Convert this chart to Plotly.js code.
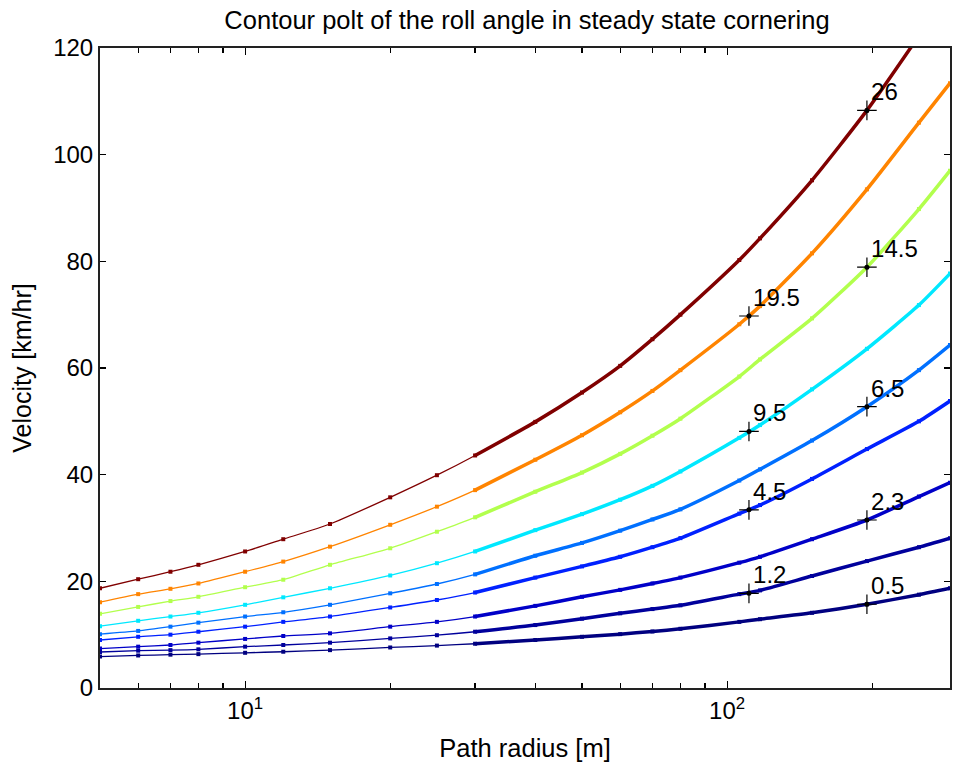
<!DOCTYPE html>
<html>
<head>
<meta charset="utf-8">
<script src="https://cdn.plot.ly/plotly-3.0.1.min.js"></script>
<style>html,body{margin:0;padding:0;background:#fff;}#chart{width:953px;height:769px;}</style>
</head>
<body>
<div id="chart"></div>
<script>
// Path radius samples [m]
const radius = [5,6,7,8,10,12,15,20,25,30,40,50,60,70,80,106,117,150,195,250,290];

// Velocity [km/hr] along each roll-angle contour
const v26   = [18.7,20.4,21.8,23.1,25.6,27.9,30.75,35.75,39.9,43.6,49.9,55.4,60.4,65.4,70.0,80.25,84.3,95.2,108.3,122.3,null];
const v19_5 = [16.1,17.6,18.6,19.6,21.8,23.7,26.5,30.6,34.0,37.1,42.8,47.4,51.7,55.7,59.6,68.2,71.6,81.5,93.5,106.0,113.4];
const v14_5 = [13.9,15.2,16.3,17.1,18.9,20.3,23.1,26.2,29.3,32.0,36.8,40.4,43.9,47.3,50.5,58.4,61.6,69.3,78.9,89.8,97.0];
const v9_5  = [11.6,12.6,13.4,14.1,15.6,17.0,18.7,21.1,23.4,25.6,29.6,32.6,35.3,37.9,40.6,46.9,49.3,56.0,63.6,71.8,77.7];
const v6_5  = [10.1,10.7,11.5,12.25,13.4,14.2,15.6,17.75,19.5,21.3,24.8,27.2,29.5,31.6,33.5,38.9,41.0,46.4,52.75,59.6,64.3];
const v4_5  = [9.0,9.6,10.0,10.55,11.5,12.4,13.4,15.1,16.5,17.9,20.7,22.8,24.6,26.4,28.1,32.7,34.3,39.2,44.8,50.0,53.8];
const v2_3  = [7.4,7.75,8.06,8.5,9.2,9.75,10.25,11.5,12.4,13.4,15.4,17.1,18.4,19.6,20.7,23.5,24.6,27.9,31.5,35.9,38.5];
const v1_2  = [6.75,7.0,7.1,7.25,7.75,8.06,8.5,9.3,9.9,10.55,11.8,13.0,14.0,14.8,15.5,17.6,18.3,21.0,23.8,26.4,28.1];
const v0_5  = [5.9,6.1,6.25,6.35,6.6,6.8,7.1,7.6,7.95,8.3,9.0,9.6,10.1,10.6,11.1,12.4,12.9,14.1,15.7,17.5,18.7];

const levels = ['26','19.5','14.5','9.5','6.5','4.5','2.3','1.2','0.5'];
const series = [v26, v19_5, v14_5, v9_5, v6_5, v4_5, v2_3, v1_2, v0_5];
const colors = ['#800000','#ff8400','#b2ff4d','#00e8ff','#0070ff','#0021ff','#0000c8','#00009c','#000080'];

// Contour label positions
const labelR = [195,111,195,111,195,111,195,111,195];
const labelV = [108.3,69.75,78.9,48.1,52.75,33.4,31.5,17.75,15.7];
const labelText = ['26','19.5','14.5','9.5','6.5','4.5','2.3','1.2','0.5'];

// Axis ticks
const xMajorVals = [10,100];
const xMajorText = ['10<sup>1</sup>','10<sup>2</sup>'];
const xMinorVals = [6,7,8,9,20,30,40,50,60,70,80,90,200];
const yTickVals = [0,20,40,60,80,100,120];

const traces = [];
series.forEach((vals, i) => {
  traces.push({
    x: radius, y: vals, type: 'scatter', mode: 'lines+markers',
    line: {color: colors[i], width: 1.3, shape: 'spline', smoothing: 0.6},
    marker: {color: colors[i], size: 4, symbol: 'square'},
    hoverinfo: 'skip', showlegend: false, name: levels[i]
  });
  const rx = [], ry = [];
  radius.forEach((r, k) => { if (r >= 30) { rx.push(r); ry.push(vals[k]); } });
  traces.push({
    x: rx, y: ry, type: 'scatter', mode: 'lines',
    line: {color: colors[i], width: 3.5, shape: 'spline', smoothing: 0.6},
    hoverinfo: 'skip', showlegend: false
  });
});

traces.push({
  x: labelR, y: labelV, type: 'scatter', mode: 'markers',
  marker: {symbol: 'cross-thin-open', size: 14, line: {color: '#000', width: 1.2}, color: '#000'},
  hoverinfo: 'skip', showlegend: false
});
traces.push({
  x: labelR, y: labelV, type: 'scatter', mode: 'markers+text',
  marker: {symbol: 'circle', size: 5, color: '#000'},
  text: labelText, textposition: 'top right',
  textfont: {family: 'Liberation Sans, Arial, sans-serif', size: 24, color: '#000'},
  hoverinfo: 'skip', showlegend: false
});

const fam = 'Liberation Sans, Arial, sans-serif';

const layout = {
  width: 953, height: 769,
  margin: {l: 100, r: 3, t: 48, b: 81},
  paper_bgcolor: '#fff', plot_bgcolor: '#fff',
  font: {family: fam, size: 24, color: '#000'},
  title: {text: 'Contour polt of the roll angle in steady state cornering', font: {family: fam, size: 25.5, color: '#000'},
          x: 0.553, xref: 'container', xanchor: 'center', y: 0.974, yref: 'container', yanchor: 'middle'},
  xaxis: {
    type: 'log', range: [Math.log10(5), Math.log10(290)],
    tickmode: 'array', tickvals: xMajorVals, ticktext: xMajorText,
    ticks: 'inside', ticklen: 7, tickcolor: '#000', tickwidth: 1.2,
    minor: {tickmode: 'array', tickvals: xMinorVals, ticks: 'inside', ticklen: 5, tickcolor: '#000', tickwidth: 1.2, showgrid: false},
    showline: true, linecolor: '#222', linewidth: 2, mirror: 'allticks',
    showgrid: false, zeroline: false,
    tickfont: {family: fam, size: 24, color: '#000'},
    title: {text: 'Path radius [m]', font: {family: fam, size: 25.5, color: '#000'}, standoff: 16}
  },
  yaxis: {
    range: [0, 120], tickmode: 'array', tickvals: yTickVals,
    ticks: 'inside', ticklen: 6, tickcolor: '#000', tickwidth: 1.2,
    showline: true, linecolor: '#222', linewidth: 2, mirror: 'allticks',
    showgrid: false, zeroline: false,
    tickfont: {family: fam, size: 24, color: '#000'},
    title: {text: 'Velocity [km/hr]', font: {family: fam, size: 25, color: '#000'}, standoff: 14}
  }
};

Plotly.newPlot('chart', traces, layout, {staticPlot: true, displayModeBar: false});
</script>
</body>
</html>
